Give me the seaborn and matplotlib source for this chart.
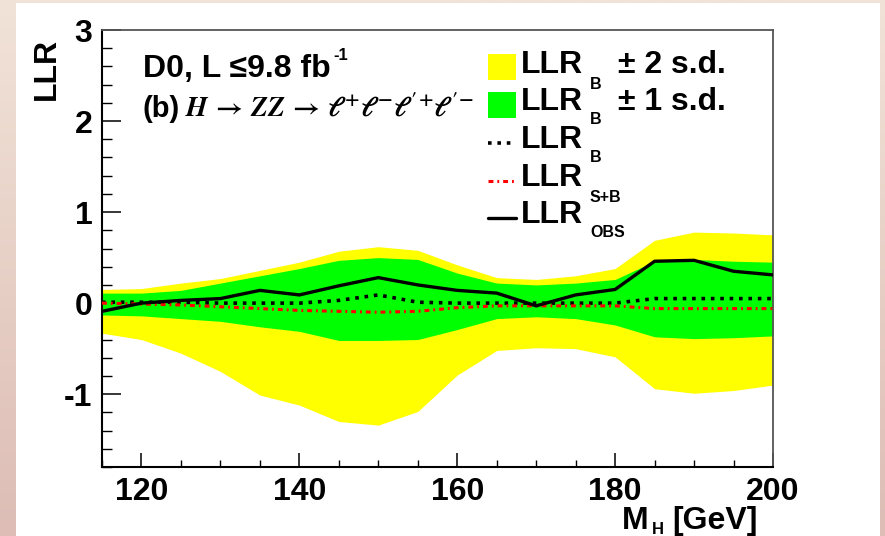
import numpy as np
import pandas as pd
import matplotlib
matplotlib.use("Agg")
import matplotlib.pyplot as plt
import seaborn as sns
from matplotlib.patches import Rectangle
from matplotlib.lines import Line2D
from matplotlib.colors import LinearSegmentedColormap
from matplotlib.ticker import MultipleLocator

# ---------------- data ----------------
mass = [115, 120, 125, 130, 135, 140, 145, 150, 155, 160,
        165, 170, 175, 180, 185, 190, 195, 200]
llr_obs = [-0.09, 0.00, 0.03, 0.05, 0.14, 0.09, 0.19, 0.28, 0.20, 0.14,
           0.11, -0.03, 0.09, 0.15, 0.46, 0.47, 0.35, 0.31]
llr_b = [0.01, 0.01, 0.01, 0.00, 0.00, 0.00, 0.03, 0.09, 0.01, 0.00,
         0.00, 0.00, 0.00, 0.00, 0.05, 0.05, 0.05, 0.05]
llr_sb = [0.00, -0.01, -0.02, -0.04, -0.06, -0.08, -0.09, -0.10, -0.09, -0.05,
          -0.03, -0.03, -0.03, -0.03, -0.06, -0.06, -0.06, -0.06]
b_p1 = [0.11, 0.11, 0.14, 0.22, 0.30, 0.38, 0.47, 0.50, 0.48, 0.33,
        0.22, 0.20, 0.22, 0.26, 0.46, 0.48, 0.46, 0.45]
b_m1 = [-0.13, -0.14, -0.17, -0.20, -0.26, -0.31, -0.41, -0.41, -0.40, -0.29,
        -0.17, -0.15, -0.17, -0.24, -0.37, -0.39, -0.38, -0.36]
b_p2 = [0.15, 0.16, 0.22, 0.27, 0.36, 0.45, 0.57, 0.62, 0.58, 0.42,
        0.28, 0.26, 0.30, 0.38, 0.69, 0.78, 0.77, 0.75]
b_m2 = [-0.33, -0.40, -0.55, -0.75, -1.01, -1.12, -1.30, -1.34, -1.19, -0.79,
        -0.52, -0.49, -0.50, -0.59, -0.94, -0.99, -0.96, -0.90]

x_ticks = [120, 140, 160, 180, 200]
y_ticks = [-1, 0, 1, 2, 3]

df = pd.DataFrame({"mass": mass, "obs": llr_obs, "b": llr_b, "sb": llr_sb,
                   "p1": b_p1, "m1": b_m1, "p2": b_p2, "m2": b_m2})

# ---------------- style ----------------
sns.set_theme(style="white")
plt.rcParams["font.family"] = ["Liberation Sans", "DejaVu Sans"]
plt.rcParams["font.weight"] = "bold"
plt.rcParams["axes.unicode_minus"] = False

W, H = 885, 536
fig = plt.figure(figsize=(W / 100, H / 100), dpi=100)


def fx(x):
    return x / W


def fy(y):
    return 1 - y / H


# background: pinkish gradient frame with white panel
bg = fig.add_axes([0, 0, 1, 1], zorder=-10)
grad = np.linspace(0, 1, 256).reshape(-1, 1)
cmap = LinearSegmentedColormap.from_list("bg", ["#f1e3d8", "#ddbdb5"])
bg.imshow(grad, aspect="auto", cmap=cmap, extent=[0, 1, 0, 1])
bg.add_patch(Rectangle((fx(16), 0), fx(880) - fx(16), fy(3), color="white",
                       transform=bg.transAxes, lw=0))
bg.set_xlim(0, 1)
bg.set_ylim(0, 1)
bg.axis("off")

# main axes
ax = fig.add_axes([fx(102), fy(467), fx(773) - fx(102), fy(30) - fy(467)])
ax.set_facecolor("white")

ax.fill_between(df["mass"], df["m2"], df["p2"], color="#ffff00", lw=0, zorder=1)
ax.fill_between(df["mass"], df["m1"], df["p1"], color="#00ff00", lw=0, zorder=2)

DOT = (0, (1, 1.6))
DASHDOT = (0, (1.6, 1.3, 0.6, 1.3))
sns.lineplot(data=df, x="mass", y="b", ax=ax, color="black", lw=2.6,
             linestyle=DOT, zorder=3)
sns.lineplot(data=df, x="mass", y="sb", ax=ax, color="#ff0000", lw=2.2,
             linestyle=DASHDOT, zorder=3)
sns.lineplot(data=df, x="mass", y="obs", ax=ax, color="black", lw=2.4,
             zorder=4)

ax.set_xlim(115, 200)
ax.set_ylim(-1.8, 3.0)
ax.set_xlabel("")
ax.set_ylabel("")
ax.set_xticks(x_ticks)
ax.set_yticks(y_ticks)
ax.set_xticklabels([str(t) for t in x_ticks])
ax.set_yticklabels([str(t) for t in y_ticks])
ax.xaxis.set_minor_locator(MultipleLocator(5))
ax.yaxis.set_minor_locator(MultipleLocator(0.2))

BIG = 23
ax.tick_params(axis="x", which="major", direction="in", length=10, width=1.1,
               color="black", labelsize=BIG, pad=7, bottom=True, top=False)
ax.tick_params(axis="x", which="minor", direction="in", length=5, width=1.0,
               color="black", bottom=True, top=False)
ax.tick_params(axis="y", which="major", direction="in", length=14, width=1.1,
               color="black", labelsize=BIG, pad=7, left=True, right=False)
ax.tick_params(axis="y", which="minor", direction="in", length=7, width=1.0,
               color="black", left=True, right=False)
for lab in ax.get_xticklabels() + ax.get_yticklabels():
    lab.set_fontweight("bold")
    lab.set_color("black")

for s in ["left", "bottom"]:
    ax.spines[s].set_color("black")
    ax.spines[s].set_linewidth(1.5)
for s in ["top", "right"]:
    ax.spines[s].set_color("#555555")
    ax.spines[s].set_linewidth(1.3)

renderer = fig.canvas.get_renderer()


def right_px(t):
    bb = t.get_window_extent(renderer=renderer)
    return bb.x1


def txt(x, y, s, size, **kw):
    kw.setdefault("ha", "left")
    kw.setdefault("va", "baseline")
    return fig.text(fx(x), fy(y), s, fontsize=size, fontweight="bold",
                    color="black", **kw)


# axis titles
fig.text(fx(47), fy(69), "LLR", rotation=90, ha="center", va="center",
         fontsize=BIG, fontweight="bold", color="black")
t_gev = txt(758, 529, "[GeV]", BIG, ha="right")
t_h = txt(664, 534, "H", 12, ha="right")
t_m = txt(648, 529, "M", BIG, ha="right")

# annotations
t1 = txt(143, 77, "D0, L \u22649.8 fb", BIG)
t_b = txt(143, 117, "(b)", 21)
fig.canvas.draw()
x_sup = right_px(t1) + 3
fig.text(x_sup / W, fy(60), "-1", fontsize=12, fontweight="bold",
         color="black", ha="left", va="baseline")
x_math = right_px(t_b) + 5
fig.text(x_math / W, fy(117),
         r"$H \,\rightarrow\, ZZ \,\rightarrow\, \ell^{+}\ell^{-}\ell'^{+}\ell'^{-}$",
         ha="left", va="baseline", fontsize=20, math_fontfamily="stix",
         color="black")

# legend (manual, ROOT style)
fig.add_artist(Rectangle((fx(488), fy(80)), fx(516) - fx(488), fy(54) - fy(80),
                         transform=fig.transFigure, color="#ffff00", lw=0))
fig.add_artist(Rectangle((fx(488), fy(118)), fx(516) - fx(488), fy(92) - fy(118),
                         transform=fig.transFigure, color="#00ff00", lw=0))
fig.add_artist(Line2D([fx(488), fx(516)], [fy(143), fy(143)],
                      transform=fig.transFigure, color="black", lw=2.6,
                      linestyle=DOT))
fig.add_artist(Line2D([fx(488), fx(516)], [fy(181), fy(181)],
                      transform=fig.transFigure, color="#ff0000", lw=2.2,
                      linestyle=DASHDOT))
fig.add_artist(Line2D([fx(488), fx(516)], [fy(218), fy(218)],
                      transform=fig.transFigure, color="black", lw=2.4))

rows = [(73, 89, "B", "\u00b1 2 s.d."),
        (110, 124, "B", "\u00b1 1 s.d."),
        (148, 162, "B", ""),
        (186, 202, "S+B", ""),
        (223, 237, "OBS", "")]
for base, sub_base, sub, extra in rows:
    txt(521, base, "LLR", BIG)
    txt(590, sub_base, sub, 11.5)
    if extra:
        txt(618, base, extra, BIG)

fig.savefig("out.png", dpi=100)
